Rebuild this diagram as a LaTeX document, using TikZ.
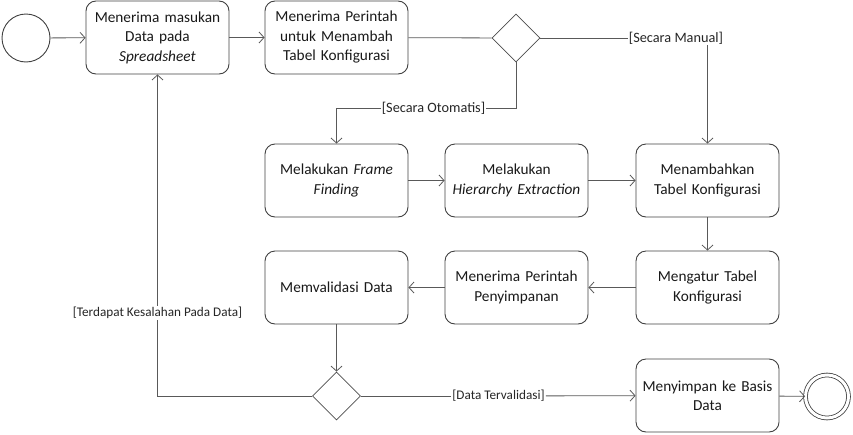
\documentclass[tikz,border=0pt]{standalone}
\usepackage{fontspec}
\setmainfont{Carlito}
\usetikzlibrary{arrows.meta, shapes.geometric}

\tikzset{
  activity/.style={draw=black!75, line width=0.9pt, rounded corners=10pt, minimum width=143pt, minimum height=73pt, text width=140pt, align=center, inner sep=0pt, font=\fontsize{15.3}{19.5}\selectfont, text=black!90},
  decision/.style={draw=black!70, line width=0.8pt, diamond, minimum width=48pt, minimum height=48pt, inner sep=0pt, aspect=1},
  guard/.style={fill=white, inner sep=1pt, font=\fontsize{14.3}{16}\selectfont, text=black!85},
  smallguard/.style={guard, font=\fontsize{13.2}{15}\selectfont},
  flow/.style={draw=black!65, line width=0.8pt, -{Straight Barb[length=5pt, width=11pt]}},
  link/.style={draw=black!65, line width=0.8pt},
}

\begin{document}
\begin{tikzpicture}[x=1pt, y=-1pt]
\useasboundingbox (0,0) rectangle (853,434);

% Start and end
\node[draw=black!75, line width=0.9pt, circle, minimum size=48pt, inner sep=0pt] (mulai) at (26,38) {};
\node[draw=black!75, line width=0.8pt, double, double distance=3pt, circle, minimum size=43pt, inner sep=0pt] (selesai) at (827,396.5) {};

% Activities
\node[activity] (terima) at (157.5,37.5) {Menerima masukan\\Data pada\\\textit{Spreadsheet}};
\node[activity] (perintah) at (336.5,37.5) {Menerima Perintah\\untuk Menambah\\Tabel Konfigurasi};
\node[activity] (frame) at (336.5,180.5) {Melakukan \textit{Frame}\\\textit{Finding}};
\node[activity] (hierarki) at (516.5,180.5) {Melakukan\\\textit{Hierarchy Extraction}};
\node[activity] (tambah) at (707.5,180.5) {Menambahkan\\Tabel Konfigurasi};
\node[activity] (validasi) at (336.5,287.5) {Memvalidasi Data};
\node[activity] (perintahsimpan) at (516.5,287.5) {Menerima Perintah\\Penyimpanan};
\node[activity] (atur) at (707.5,287.5) {Mengatur Tabel\\Konfigurasi};
\node[activity] (simpan) at (707.5,395.5) {Menyimpan ke Basis\\Data};

% Decisions
\node[decision] (cabang1) at (516,38) {};
\node[decision] (cabang2) at (336.5,396) {};

% Guards
\node[guard] (manual) at (676,38) {[Secara Manual]};
\node[guard] (otomatis) at (433.5,108) {[Secara Otomatis]};
\node[smallguard] (salah) at (157.5,313) {[Terdapat Kesalahan Pada Data]};
\node[smallguard] (valid) at (498.5,396) {[Data Tervalidasi]};

% Flows
\draw[flow] (mulai) -- (terima);
\draw[flow] (terima) -- (perintah);
\draw[link] (perintah) -- (cabang1);
\draw[link] (cabang1) -- (manual);
\draw[flow] (manual.south -| tambah.north) -- (tambah.north);
\draw[link] (cabang1.south) |- (otomatis.east);
\draw[flow] (otomatis.west) -| (frame.north);
\draw[flow] (frame) -- (hierarki);
\draw[flow] (hierarki) -- (tambah);
\draw[flow] (tambah) -- (atur);
\draw[flow] (atur) -- (perintahsimpan);
\draw[flow] (perintahsimpan) -- (validasi);
\draw[flow] (validasi) -- (cabang2);
\draw[link] (cabang2.west) -| (salah.south);
\draw[flow] (salah.north) -- (terima.south);
\draw[link] (cabang2.east) -- (valid);
\draw[flow] (valid) -- (simpan);
\draw[flow] (simpan) -- (selesai);

\end{tikzpicture}
\end{document}
